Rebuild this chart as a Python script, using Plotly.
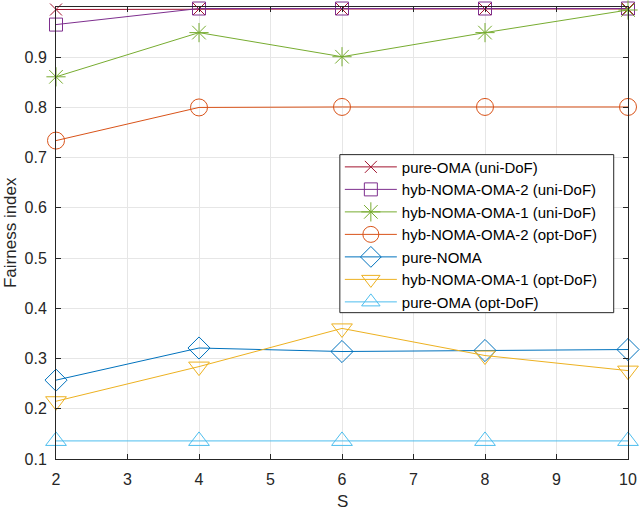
import plotly.graph_objects as go

S = [2, 4, 6, 8, 10]
pure_oma_uni = [0.995, 0.996, 0.996, 0.996, 0.996]
hyb2_uni = [0.965, 0.997, 0.997, 0.997, 0.997]
hyb1_uni = [0.861, 0.949, 0.901, 0.949, 0.994]
hyb2_opt = [0.734, 0.800, 0.801, 0.801, 0.801]
pure_noma = [0.257, 0.321, 0.314, 0.316, 0.318]
hyb1_opt = [0.215, 0.284, 0.360, 0.306, 0.276]
pure_oma_opt = [0.136, 0.136, 0.136, 0.136, 0.136]

series = [
    ("pure-OMA (uni-DoF)", pure_oma_uni, "#A2142F", "x-thin-open", 12),
    ("hyb-NOMA-OMA-2 (uni-DoF)", hyb2_uni, "#7E2F8E", "square-open", 13),
    ("hyb-NOMA-OMA-1 (uni-DoF)", hyb1_uni, "#77AC30", "asterisk-open", 16),
    ("hyb-NOMA-OMA-2 (opt-DoF)", hyb2_opt, "#D95319", "circle-open", 17),
    ("pure-NOMA", pure_noma, "#0072BD", "diamond-open", 17),
    ("hyb-NOMA-OMA-1 (opt-DoF)", hyb1_opt, "#EDB120", "triangle-down-open", 18),
    ("pure-OMA (opt-DoF)", pure_oma_opt, "#4DBEEE", "triangle-up-open", 18),
]

fig = go.Figure()
for name, vals, col, sym, sz in series:
    fig.add_trace(go.Scatter(
        x=S, y=vals, name=name, mode="lines+markers",
        line=dict(color=col, width=1),
        marker=dict(symbol=sym, size=sz, color=col, line=dict(color=col, width=1)),
        cliponaxis=False,
    ))

font = "Liberation Sans, Arial, sans-serif"
L, R, T, B = 56, 628.3, 7.4, 459.3
W, H = 640, 511
PW, PH = R - L, B - T


def px_x(p):
    return (p - L) / PW


def px_y(p):
    return (B - p) / PH


fig.update_layout(
    width=W, height=H,
    margin=dict(l=L, r=W - R, t=T, b=H - B, pad=0),
    paper_bgcolor="white", plot_bgcolor="white",
    font=dict(family=font, size=16, color="#262626"),
    showlegend=True,
    legend=dict(
        x=px_x(340), y=px_y(151), xanchor="left", yanchor="top",
        bgcolor="rgba(0,0,0,0)", borderwidth=0,
        font=dict(size=15, color="#000000"),
        tracegroupgap=0, itemwidth=52,
    ),
    shapes=[
        dict(type="rect", xref="paper", yref="paper",
             x0=px_x(340), x1=px_x(614), y0=px_y(313), y1=px_y(155),
             fillcolor="white", line=dict(color="#262626", width=1), layer="above"),
    ],
    xaxis=dict(
        range=[2, 10], tickmode="linear", tick0=2, dtick=1,
        automargin=False,
        showgrid=True, gridcolor="#E6E6E6", gridwidth=1,
        showline=True, linecolor="#262626", linewidth=1, mirror="allticks",
        ticks="inside", ticklen=5, tickcolor="#262626",
        ticklabelstandoff=6,
        zeroline=False,
    ),
    yaxis=dict(
        range=[0.1, 1], tickmode="array",
        automargin=False,
        tickvals=[0.1, 0.2, 0.3, 0.4, 0.5, 0.6, 0.7, 0.8, 0.9, 1.0],
        ticktext=["0.1", "0.2", "0.3", "0.4", "0.5", "0.6", "0.7", "0.8", "0.9", "1"],
        showgrid=True, gridcolor="#E6E6E6", gridwidth=1,
        showline=True, linecolor="#262626", linewidth=1, mirror="allticks",
        ticks="inside", ticklen=5, tickcolor="#262626",
        ticklabelstandoff=5,
        zeroline=False,
    ),
    annotations=[
        dict(text="S", xref="paper", yref="paper", x=0.5, y=px_y(502),
             xanchor="center", yanchor="middle", showarrow=False,
             font=dict(size=17, color="#262626")),
        dict(text="Fairness index", xref="paper", yref="paper",
             x=px_x(10), y=0.5, textangle=-90,
             xanchor="center", yanchor="middle", showarrow=False,
             font=dict(size=17, color="#262626")),
    ],
)
fig.write_html("out.html", config={"displayModeBar": False},
               post_script="document.body.style.margin='0';")
